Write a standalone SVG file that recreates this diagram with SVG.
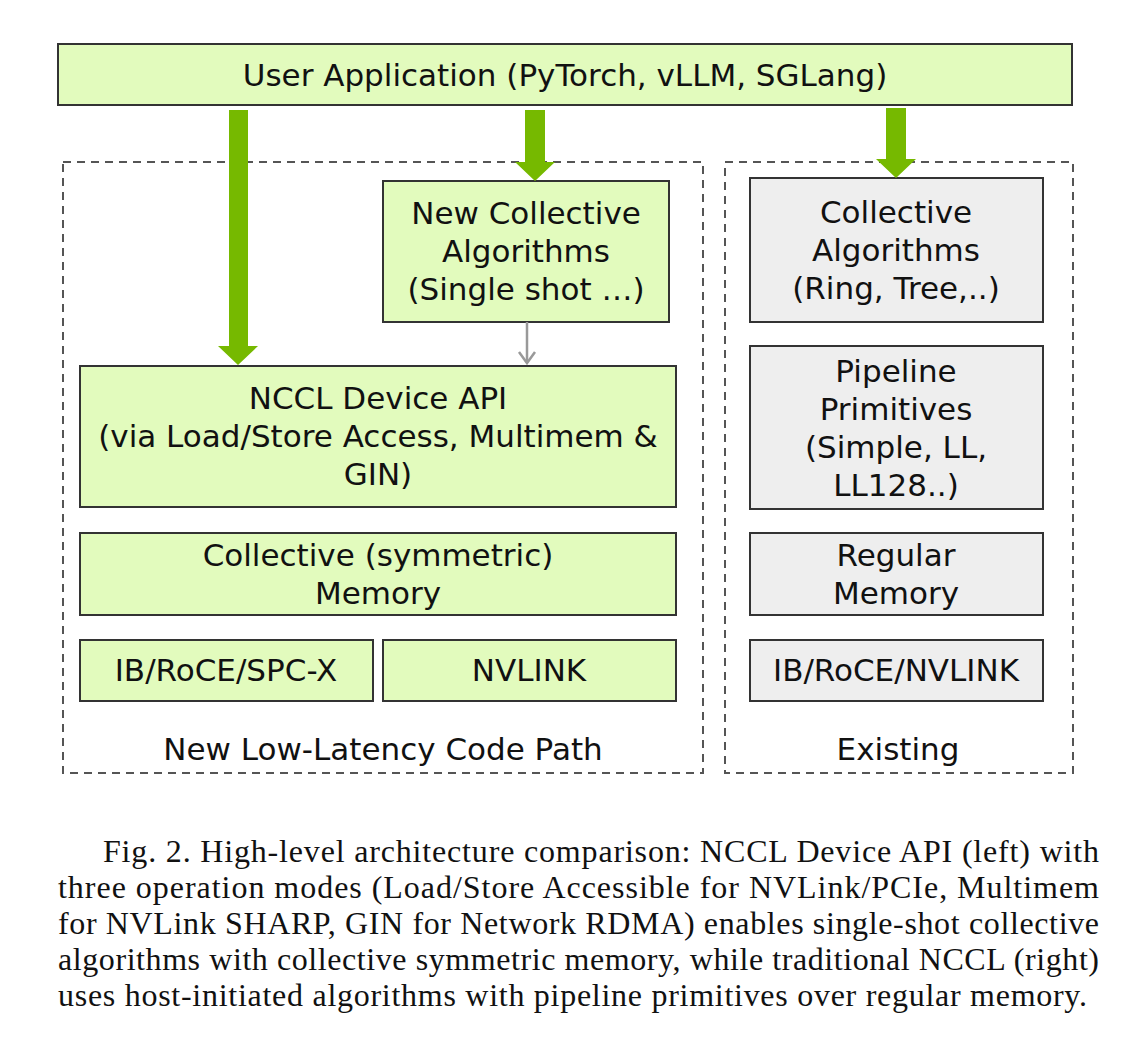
<svg xmlns="http://www.w3.org/2000/svg" width="1129" height="1058" viewBox="0 0 1129 1058">
<style>
.g{fill:#e2fbbd;stroke:#333;stroke-width:2}
.x{fill:#eeeeee;stroke:#333;stroke-width:2}
.d{fill:none;stroke:#555;stroke-width:2;stroke-dasharray:8,6}
.t{font-family:"DejaVu Sans",sans-serif;font-size:31px;fill:#111;text-anchor:middle}
.c{font-family:"Liberation Serif",serif;font-size:32px;fill:#111}
.a{fill:#76b900}
</style>
<rect width="1129" height="1058" fill="#fff"/>
<g id="groups">
<rect class="d" x="63" y="162" width="640" height="611"/>
<rect class="d" x="725" y="162" width="348" height="611"/>
<text class="t" x="383" y="760" font-size="34">New Low-Latency Code Path</text>
<text class="t" x="898" y="760" font-size="34">Existing</text>
</g>
<g id="user"><rect class="g" x="58" y="44" width="1014" height="61"/><text class="t" x="565" y="86">User Application (PyTorch, vLLM, SGLang)</text></g>
<g id="newalg"><rect class="g" x="383" y="181" width="286" height="141"/><text class="t" x="526" y="224">New Collective</text><text class="t" x="526" y="262">Algorithms</text><text class="t" x="526" y="300">(Single shot …)</text></g>
<g id="devapi"><rect class="g" x="80" y="366" width="596" height="141"/><text class="t" x="378" y="409">NCCL Device API</text><text class="t" x="378" y="447">(via Load/Store Access, Multimem &amp;</text><text class="t" x="378" y="485">GIN)</text></g>
<g id="symmem"><rect class="g" x="80" y="533" width="596" height="82"/><text class="t" x="378" y="566">Collective (symmetric)</text><text class="t" x="378" y="604">Memory</text></g>
<g id="ib"><rect class="g" x="80" y="640" width="293" height="61"/><text class="t" x="226" y="681">IB/RoCE/SPC-X</text></g>
<g id="nvlink"><rect class="g" x="383" y="640" width="293" height="61"/><text class="t" x="529" y="681">NVLINK</text></g>
<g id="collalg"><rect class="x" x="750" y="178" width="293" height="144"/><text class="t" x="896" y="223">Collective</text><text class="t" x="896" y="261">Algorithms</text><text class="t" x="896" y="299">(Ring, Tree,..)</text></g>
<g id="pipe"><rect class="x" x="750" y="346" width="293" height="163"/><text class="t" x="896" y="382">Pipeline</text><text class="t" x="896" y="420">Primitives</text><text class="t" x="896" y="458">(Simple, LL,</text><text class="t" x="896" y="496">LL128..)</text></g>
<g id="regmem"><rect class="x" x="750" y="533" width="293" height="82"/><text class="t" x="896" y="566">Regular</text><text class="t" x="896" y="604">Memory</text></g>
<g id="ibr"><rect class="x" x="750" y="640" width="293" height="61"/><text class="t" x="896" y="681">IB/RoCE/NVLINK</text></g>
<g id="connectors">
<polygon class="a" points="229,110 248,110 248,346 258,346 238,365 218,346 229,346"/>
<polygon class="a" points="525,110 545,110 545,162 555,162 535,181 515,162 525,162"/>
<polygon class="a" points="886,108 906,108 906,159 916,159 896,178 876,159 886,159"/>
<line x1="527" y1="322" x2="527" y2="363" stroke="#999" stroke-width="2.5"/>
<polyline points="519,352 527,363 535,352" fill="none" stroke="#999" stroke-width="2.5"/>
</g>
<g id="caption">
<text class="c" x="103" y="862" textLength="996" lengthAdjust="spacing">Fig. 2.  High-level architecture comparison: NCCL Device API (left) with</text>
<text class="c" x="58" y="898" textLength="1041" lengthAdjust="spacing">three operation modes (Load/Store Accessible for NVLink/PCIe, Multimem</text>
<text class="c" x="58" y="934" textLength="1041" lengthAdjust="spacing">for NVLink SHARP, GIN for Network RDMA) enables single-shot collective</text>
<text class="c" x="58" y="970" textLength="1041" lengthAdjust="spacing">algorithms with collective symmetric memory, while traditional NCCL (right)</text>
<text class="c" x="58" y="1006" textLength="1029" lengthAdjust="spacing">uses host-initiated algorithms with pipeline primitives over regular memory.</text>
</g>
</svg>
